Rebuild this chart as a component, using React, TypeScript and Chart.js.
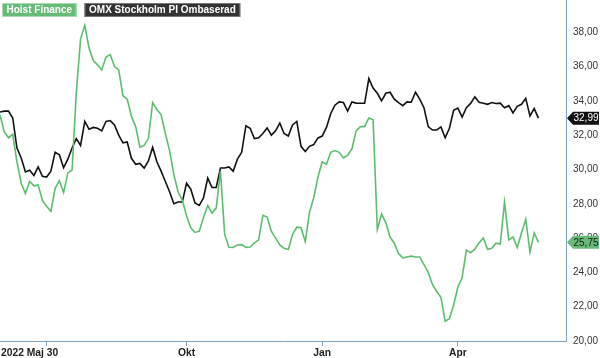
import React, { useEffect, useRef } from 'react';
import { Chart, registerables } from 'chart.js';

Chart.register(...registerables);

// Values sampled every 2 trading days, starting 2022-05-30
const hoistFinance = [
  33.18, 32.2, 31.85, 32.05, 30.44, 29.2, 28.6, 29.3, 29.05, 29.1,
  28.2, 27.85, 27.55, 28.9, 29.35, 28.65, 29.8, 29.97, 34.5, 37.6,
  38.4, 37.08, 36.35, 36.1, 35.8, 36.56, 36.7, 36.0, 35.8, 34.3,
  34.1, 33.1, 32.5, 31.3, 31.4, 31.8, 33.9, 33.5, 33.2, 32.1,
  31.1, 29.7, 28.7, 28.2, 27.3, 26.6, 26.33, 26.4, 27.2, 27.9,
  27.46, 27.75, 29.9, 26.2, 25.46, 25.45, 25.6, 25.62, 25.46, 25.48,
  25.72, 25.9, 27.33, 27.23, 26.4, 26.0, 25.6, 25.4, 25.33, 26.2,
  26.64, 26.6, 25.8, 27.5, 28.35, 29.56, 30.45, 30.3, 31.0, 31.1,
  31.0, 30.67, 30.82, 31.2, 32.25, 32.5, 32.5, 33.0, 32.9, 26.5,
  27.4, 26.9, 26.06, 25.7, 25.1, 24.85, 24.9, 24.95, 24.9, 24.9,
  24.45, 24.0, 23.3, 22.88, 22.55, 21.15, 21.3, 22.1, 23.15, 23.7,
  25.3, 25.15, 25.35, 25.73, 26.0, 25.35, 25.4, 25.7, 25.65, 28.1,
  25.9, 26.06, 25.45, 26.3, 27.1, 25.19, 26.3, 25.75,
];

const omxStockholmPI = [
  33.35, 33.4, 33.41, 33.0, 31.25, 30.67, 29.85, 29.95, 29.65, 30.15,
  29.6, 29.56, 29.9, 31.0, 30.85, 30.1, 30.6, 31.25, 31.8, 31.4,
  32.8, 32.35, 32.45, 32.4, 32.25, 32.8, 32.85, 32.6, 32.0, 31.55,
  31.6, 30.65, 30.3, 30.35, 30.08, 30.5, 31.3, 30.45, 29.9, 29.3,
  28.7, 28.0, 28.1, 28.1, 29.2, 28.85, 28.05, 27.9, 28.35, 29.5,
  28.95, 28.95, 30.09, 30.09, 30.15, 29.9, 30.6, 31.0, 32.55, 32.4,
  31.8, 31.85, 32.1, 32.42, 32.0, 32.25, 32.7, 32.1, 31.95, 32.6,
  32.8, 31.35, 31.05, 31.35, 31.45, 31.84, 31.95, 32.45, 33.25, 33.75,
  33.94, 33.9, 33.4, 33.94, 33.87, 33.86, 33.86, 35.3, 34.75, 34.44,
  34.0, 34.44, 34.5, 34.1, 33.9, 33.72, 33.94, 33.92, 34.5, 34.1,
  33.6, 32.5, 32.3, 32.3, 32.48, 31.85, 32.4, 33.45, 33.58, 33.05,
  33.6, 33.85, 34.23, 33.92, 33.86, 33.8, 33.9, 33.85, 33.87, 33.6,
  33.72, 33.3, 33.68, 33.8, 34.15, 33.12, 33.55, 32.99,
];

const seriesNames = ['Hoist Finance', 'OMX Stockholm PI Ombaserad'];
const SAMPLE_STEP_DAYS = 2;
const X_MAX_DAYS = 267;
const xTickDays = [22, 88, 152, 216];
const xLabelDays = [0, 88, 152, 216];
const xLabels = ['2022 Maj 30', 'Okt', 'Jan', 'Apr'];
const yTickValues = [20, 22, 24, 26, 28, 30, 32, 34, 36, 38];
const Y_MIN = 20;
const Y_MAX = 39.88;

const GREEN = '#5dbd6e';
const GREEN_TAG = '#66bb78';
const BLACK = '#111111';
const AXIS = '#7ea2bf';
const FONT = 'Arial, "Liberation Sans", sans-serif';

const fmt = (v: number) => v.toFixed(2).replace('.', ',');

const toPoints = (arr: number[]) => arr.map((v, i) => ({ x: i * SAMPLE_STEP_DAYS, y: v }));

const overlayPlugin = {
  id: 'overlay',
  afterDraw(chart: any) {
    const { ctx, chartArea, scales } = chart;
    const xs = scales.x;
    const ys = scales.y;
    ctx.save();
    // x labels
    ctx.font = `bold 10.3px ${FONT}`;
    ctx.fillStyle = '#222';
    ctx.textBaseline = 'middle';
    const ly = chartArea.bottom + 12;
    xLabels.forEach((t, i) => {
      const d = xLabelDays[i];
      if (d === 0) {
        ctx.textAlign = 'left';
        ctx.fillText(t, chartArea.left + 1, ly);
      } else {
        ctx.textAlign = 'center';
        ctx.fillText(t, xs.getPixelForValue(d), ly);
      }
    });
    // legend boxes
    ctx.font = `bold 10px ${FONT}`;
    const legendColors = [
      [GREEN_TAG, '#a9dcb3', '#ffffff'],
      ['#333333', '#777777', '#ffffff'],
    ];
    let lx = 2;
    ctx.textAlign = 'left';
    seriesNames.forEach((n, i) => {
      const w = ctx.measureText(n).width + 9;
      ctx.fillStyle = legendColors[i][0];
      ctx.fillRect(lx, 3, w, 14);
      ctx.strokeStyle = legendColors[i][1];
      ctx.lineWidth = 1;
      ctx.strokeRect(lx + 0.5, 3.5, w - 1, 13);
      ctx.fillStyle = legendColors[i][2];
      ctx.fillText(n, lx + 4.5, 10.5);
      lx += w + 8;
    });
    // end value tags
    ctx.font = `10px ${FONT}`;
    const tagColors = [
      [GREEN_TAG, '#1a1a1a'],
      ['#111111', '#ffffff'],
    ];
    chart.data.datasets.forEach((ds: any, i: number) => {
      const last = ds.data[ds.data.length - 1].y;
      const y = ys.getPixelForValue(last);
      const x0 = chartArea.right + 1;
      const x1 = 599;
      ctx.beginPath();
      ctx.moveTo(x0, y);
      ctx.lineTo(x0 + 6, y - 6.5);
      ctx.lineTo(x1, y - 6.5);
      ctx.lineTo(x1, y + 6.5);
      ctx.lineTo(x0 + 6, y + 6.5);
      ctx.closePath();
      ctx.fillStyle = tagColors[i][0];
      ctx.fill();
      ctx.fillStyle = tagColors[i][1];
      ctx.textAlign = 'center';
      ctx.fillText(fmt(last), (x0 + 6 + x1) / 2, y + 0.5);
    });
    ctx.restore();
  },
};

export default function App() {
  const ref = useRef<HTMLCanvasElement | null>(null);
  useEffect(() => {
    if (!ref.current) return;
    const chart = new Chart(ref.current, {
      type: 'line',
      data: {
        datasets: [
          {
            label: seriesNames[0],
            data: toPoints(hoistFinance),
            borderColor: GREEN,
            borderWidth: 1.6,
            pointRadius: 0,
            tension: 0,
          },
          {
            label: seriesNames[1],
            data: toPoints(omxStockholmPI),
            borderColor: BLACK,
            borderWidth: 1.6,
            pointRadius: 0,
            tension: 0,
          },
        ],
      },
      options: {
        animation: false,
        responsive: false,
        layout: { padding: 0 },
        plugins: { legend: { display: false }, tooltip: { enabled: false } },
        scales: {
          x: {
            type: 'linear',
            min: 0,
            max: X_MAX_DAYS,
            position: 'bottom',
            grid: { display: true, drawOnChartArea: false, drawTicks: true, tickLength: 5, color: AXIS },
            border: { display: true, color: AXIS, width: 1 },
            ticks: { display: false },
            afterBuildTicks: (s: any) => {
              s.ticks = xTickDays.map((v) => ({ value: v }));
            },
            afterFit: (s: any) => {
              s.height = 17;
              s.paddingLeft = 0;
              s.paddingRight = 0;
            },
          },
          y: {
            type: 'linear',
            position: 'right',
            min: Y_MIN,
            max: Y_MAX,
            grid: { display: false, drawTicks: false, tickLength: 0 },
            border: { display: true, color: AXIS, width: 1 },
            ticks: {
              padding: 7,
              color: '#333',
              font: { size: 10, family: FONT },
              callback: (v: any) => fmt(Number(v)),
            },
            afterBuildTicks: (s: any) => {
              s.ticks = yTickValues.map((v) => ({ value: v }));
            },
            afterFit: (s: any) => {
              s.width = 34;
              s.paddingTop = 0;
              s.paddingBottom = 0;
            },
          },
        },
      },
      plugins: [overlayPlugin],
    } as any);
    return () => chart.destroy();
  }, []);
  return (
    <div style={{ position: 'fixed', left: 0, top: 0, width: 600, height: 358, background: '#fff' }}>
      <canvas ref={ref} width={600} height={358} />
    </div>
  );
}
